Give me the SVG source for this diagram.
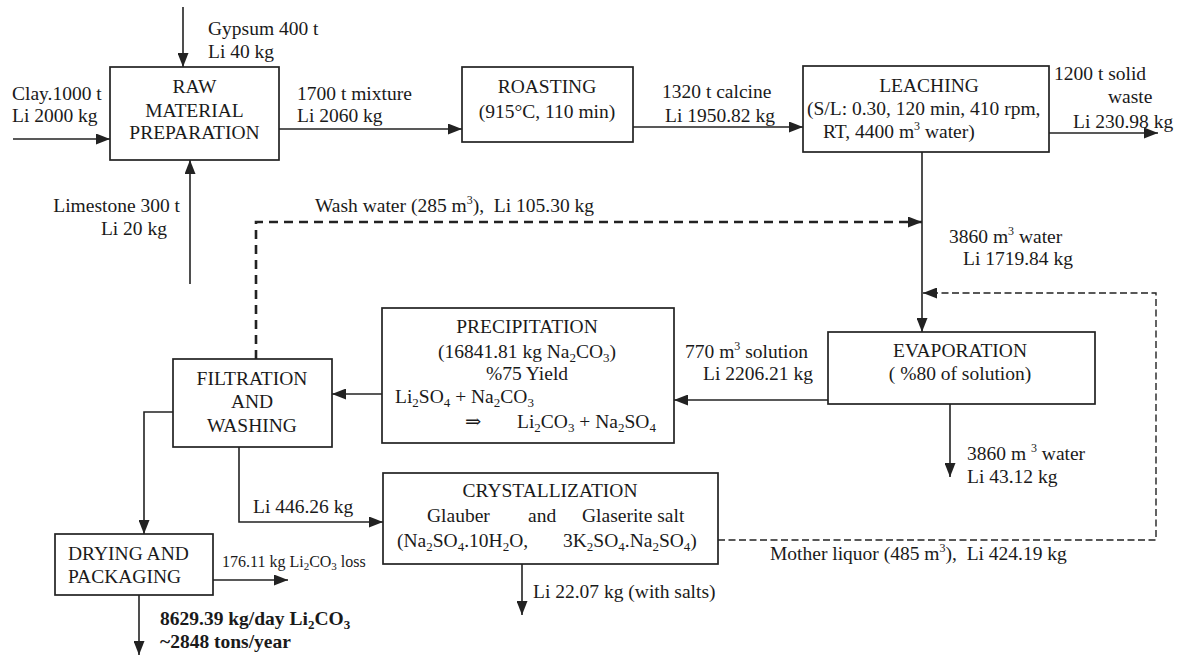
<svg xmlns="http://www.w3.org/2000/svg" width="1184" height="656" viewBox="0 0 1184 656">
<style>
text{font-family:"Liberation Serif","DejaVu Serif",serif;font-size:19.5px;fill:#1a1a1a}
.c{text-anchor:middle}
.e{text-anchor:end}
.s{font-size:16px}
.b{font-weight:bold}
.box{fill:#fff;stroke:#222;stroke-width:1.7}
.ln{fill:none;stroke:#222;stroke-width:1.6}
.d1{fill:none;stroke:#222;stroke-width:2.6;stroke-dasharray:9 6}
.d2{fill:none;stroke:#222;stroke-width:1.4;stroke-dasharray:7 3.5}
</style>
<defs>
<marker id="ah" viewBox="0 0 14 11" refX="14" refY="5.5" markerWidth="14" markerHeight="11" orient="auto" markerUnits="userSpaceOnUse"><path d="M0,0 L14,5.5 L0,11 z" fill="#222"/></marker>
</defs>
<rect width="1184" height="656" fill="#fff"/>

<g id="connectors">
<path class="ln" d="M183,7 V67" marker-end="url(#ah)"/>
<path class="ln" d="M13,139 H110" marker-end="url(#ah)"/>
<path class="ln" d="M190,284 V160" marker-end="url(#ah)"/>
<path class="ln" d="M279,129 H462" marker-end="url(#ah)"/>
<path class="ln" d="M633,127 H803" marker-end="url(#ah)"/>
<path class="ln" d="M1049,133 H1158" marker-end="url(#ah)"/>
<path class="ln" d="M922,152 V332" marker-end="url(#ah)"/>
<path class="d1" d="M256,359 V222 H922" marker-end="url(#ah)"/>
<path class="d2" d="M718,540 H1156 V293 H923" marker-end="url(#ah)"/>
<path class="ln" d="M828,400 H674" marker-end="url(#ah)"/>
<path class="ln" d="M382,394 H332" marker-end="url(#ah)"/>
<path class="ln" d="M950,404 V477" marker-end="url(#ah)"/>
<path class="ln" d="M173,412 H144 V534" marker-end="url(#ah)"/>
<path class="ln" d="M239,447 V522 H383" marker-end="url(#ah)"/>
<path class="ln" d="M213,580 H288" marker-end="url(#ah)"/>
<path class="ln" d="M139,595 V655" marker-end="url(#ah)"/>
<path class="ln" d="M522,564 V615" marker-end="url(#ah)"/>
</g>

<g id="labels">
<text x="208" y="35">Gypsum 400 t</text>
<text x="208" y="58">Li 40 kg</text>
<text x="12" y="100">Clay.1000 t</text>
<text x="12" y="122">Li 2000 kg</text>
<text class="e" x="180" y="212">Limestone 300 t</text>
<text class="e" x="167" y="235">Li 20 kg</text>
<text x="297" y="100">1700 t mixture</text>
<text x="297" y="122">Li 2060 kg</text>
<text x="662" y="98">1320 t calcine</text>
<text x="665" y="122">Li 1950.82 kg</text>
<text x="1054" y="80">1200 t solid</text>
<text x="1108" y="103">waste</text>
<text x="1073" y="128">Li 230.98 kg</text>
<text x="315" y="212">Wash water (285 m<tspan font-size="12" dy="-8">3</tspan><tspan dy="8">),&#160; Li 105.30 kg</tspan></text>
<text x="949" y="243">3860 m<tspan font-size="12" dy="-8">3</tspan><tspan dy="8"> water</tspan></text>
<text x="963" y="265">Li 1719.84 kg</text>
<text x="685" y="358">770 m<tspan font-size="12" dy="-8">3</tspan><tspan dy="8"> solution</tspan></text>
<text x="703" y="380">Li 2206.21 kg</text>
<text x="967" y="460">3860 m <tspan font-size="12" dy="-8">3</tspan><tspan dy="8"> water</tspan></text>
<text x="967" y="483">Li 43.12 kg</text>
<text x="253" y="513">Li 446.26 kg</text>
<text class="s" x="222" y="567">176.11 kg Li<tspan font-size="11" dy="3">2</tspan><tspan dy="-3">CO</tspan><tspan font-size="11" dy="3">3</tspan><tspan dy="-3"> loss</tspan></text>
<text class="b" x="160" y="625">8629.39 kg/day Li<tspan font-size="13" dy="4">2</tspan><tspan dy="-4">CO</tspan><tspan font-size="13" dy="4">3</tspan></text>
<text class="b" x="160" y="648">~2848 tons/year</text>
<text x="770" y="560">Mother liquor (485 m<tspan font-size="12" dy="-8">3</tspan><tspan dy="8">),&#160; Li 424.19 kg</tspan></text>
<text x="533" y="598">Li 22.07 kg (with salts)</text>
</g>

<g id="raw">
<rect class="box" x="110" y="67" width="169" height="93"/>
<text class="c" x="194.5" y="93">RAW</text>
<text class="c" x="194.5" y="117">MATERIAL</text>
<text class="c" x="194.5" y="139">PREPARATION</text>
</g>

<g id="roasting">
<rect class="box" x="462" y="67" width="171" height="75"/>
<text class="c" x="547" y="93">ROASTING</text>
<text class="c" x="547" y="118">(915°C, 110 min)</text>
</g>

<g id="leaching">
<rect class="box" x="803" y="66" width="246" height="86"/>
<text class="c" x="929" y="92">LEACHING</text>
<text x="807" y="115">(S/L: 0.30, 120 min, 410 rpm,</text>
<text x="823" y="138">RT, 4400 m<tspan font-size="12" dy="-8">3</tspan><tspan dy="8"> water)</tspan></text>
</g>

<g id="evaporation">
<rect class="box" x="828" y="332" width="267" height="72"/>
<text class="c" x="960" y="357">EVAPORATION</text>
<text class="c" x="960" y="380">( %80 of solution)</text>
</g>

<g id="precipitation">
<rect class="box" x="382" y="308" width="292" height="135"/>
<text class="c" x="527" y="333">PRECIPITATION</text>
<text class="c" x="527" y="358">(16841.81 kg Na<tspan font-size="13" dy="4">2</tspan><tspan dy="-4">CO</tspan><tspan font-size="13" dy="4">3</tspan><tspan dy="-4">)</tspan></text>
<text class="c" x="527" y="380">%75 Yield</text>
<text x="395" y="403">Li<tspan font-size="13" dy="4">2</tspan><tspan dy="-4">SO</tspan><tspan font-size="13" dy="4">4</tspan><tspan dy="-4"> + Na</tspan><tspan font-size="13" dy="4">2</tspan><tspan dy="-4">CO</tspan><tspan font-size="13" dy="4">3</tspan></text>
<text x="465" y="428">⇒</text>
<text x="517" y="428">Li<tspan font-size="13" dy="4">2</tspan><tspan dy="-4">CO</tspan><tspan font-size="13" dy="4">3</tspan><tspan dy="-4"> + Na</tspan><tspan font-size="13" dy="4">2</tspan><tspan dy="-4">SO</tspan><tspan font-size="13" dy="4">4</tspan></text>
</g>

<g id="filtration">
<rect class="box" x="173" y="359" width="159" height="88"/>
<text class="c" x="252" y="385">FILTRATION</text>
<text class="c" x="252" y="408">AND</text>
<text class="c" x="252" y="432">WASHING</text>
</g>

<g id="crystallization">
<rect class="box" x="383" y="473" width="335" height="91"/>
<text class="c" x="550" y="497">CRYSTALLIZATION</text>
<text x="427" y="522">Glauber</text>
<text x="528" y="522">and</text>
<text x="582" y="522">Glaserite salt</text>
<text x="397" y="547">(Na<tspan font-size="13" dy="4">2</tspan><tspan dy="-4">SO</tspan><tspan font-size="13" dy="4">4</tspan><tspan dy="-4">.10H</tspan><tspan font-size="13" dy="4">2</tspan><tspan dy="-4">O,</tspan></text>
<text x="563" y="547">3K<tspan font-size="13" dy="4">2</tspan><tspan dy="-4">SO</tspan><tspan font-size="13" dy="4">4</tspan><tspan dy="-4">.Na</tspan><tspan font-size="13" dy="4">2</tspan><tspan dy="-4">SO</tspan><tspan font-size="13" dy="4">4</tspan><tspan dy="-4">)</tspan></text>
</g>

<g id="drying">
<rect class="box" x="55" y="534" width="158" height="61"/>
<text x="68" y="560">DRYING AND</text>
<text x="68" y="583">PACKAGING</text>
</g>
</svg>
